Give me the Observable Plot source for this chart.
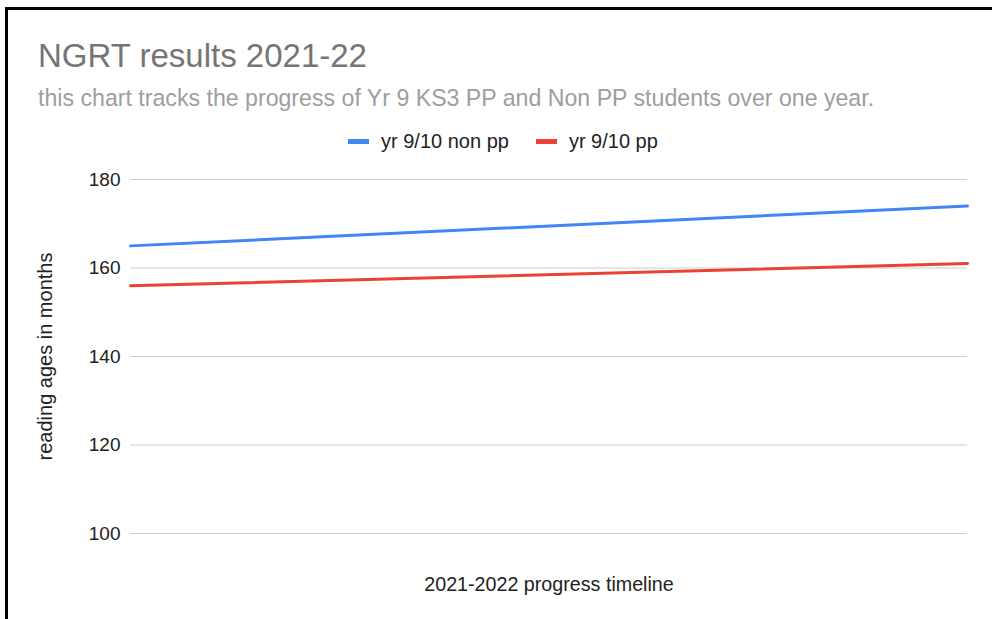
<!DOCTYPE html>
<html>
<head>
<meta charset="utf-8">
<script src="https://cdn.jsdelivr.net/npm/d3@7"></script>
<script src="https://cdn.jsdelivr.net/npm/@observablehq/plot@0.6"></script>
<style>
  html, body { margin: 0; padding: 0; background: #fff; overflow: hidden; width: 992px; height: 619px; }
  body { position: relative; font-family: "Liberation Sans", Arial, sans-serif; }
  #frame { position: absolute; left: 5px; top: 7px; width: 1100px; height: 800px; border: 3px solid #000; box-sizing: border-box; }
  #title { position: absolute; left: 38px; top: 39px; font-size: 33px; line-height: 1; color: #757575; white-space: nowrap; }
  #subtitle { position: absolute; left: 38px; top: 86.5px; font-size: 23.15px; line-height: 1; color: #9e9e9e; white-space: nowrap; }
  #legend { position: absolute; left: 348px; top: 131px; display: flex; align-items: center; font-size: 20px; line-height: 1; color: #222; white-space: nowrap; }
  .item { display: flex; align-items: center; margin-right: 27px; }
  .sw { width: 21px; height: 5px; margin-right: 12px; }
  #chart { position: absolute; left: 0; top: 0; }
</style>
</head>
<body>
<div id="frame"></div>
<div id="title"></div>
<div id="subtitle"></div>
<div id="legend"></div>
<div id="chart"></div>
<script>
const titleText = "NGRT results 2021-22";
const subtitleText = "this chart tracks the progress of Yr 9 KS3 PP and Non PP students over one year.";
const periods = ["start of year", "end of year"];
const seriesNames = ["yr 9/10 non pp", "yr 9/10 pp"];
const seriesColors = ["#4285F4", "#EA4335"];
const nonPP = [165, 174];
const pp = [156, 161];
const yTicks = [100, 120, 140, 160, 180];
const yLabel = "reading ages in months";
const xLabel = "2021-2022 progress timeline";

document.getElementById("title").textContent = titleText;
document.getElementById("subtitle").textContent = subtitleText;
const legend = document.getElementById("legend");
seriesNames.forEach((name, i) => {
  const item = document.createElement("div");
  item.className = "item";
  const sw = document.createElement("div");
  sw.className = "sw";
  sw.style.background = seriesColors[i];
  const t = document.createElement("span");
  t.textContent = name;
  item.appendChild(sw); item.appendChild(t);
  legend.appendChild(item);
});

const rows = [];
periods.forEach((p, i) => {
  rows.push({period: p, value: nonPP[i], series: seriesNames[0]});
});
periods.forEach((p, i) => {
  rows.push({period: p, value: pp[i], series: seriesNames[1]});
});

const chart = Plot.plot({
  width: 992,
  height: 619,
  marginLeft: 130,
  marginRight: 25,
  marginTop: 179,
  marginBottom: 86,
  style: {fontFamily: "Liberation Sans, Arial, sans-serif", background: "transparent", color: "#222"},
  x: {type: "point", domain: periods, padding: 0},
  y: {domain: [100, 180]},
  color: {domain: seriesNames, range: seriesColors},
  marks: [
    Plot.gridY(yTicks, {stroke: "#cccccc", strokeOpacity: 1, strokeWidth: 1}),
    Plot.axisY(yTicks, {tickSize: 0, tickPadding: 10, fontSize: 19, fill: "#222", label: null}),
    Plot.axisY([], {tickSize: 0, fontSize: 20, fill: "#222",
      label: yLabel, labelAnchor: "center", labelArrow: "none", labelOffset: 93}),
    Plot.axisX([], {tickSize: 0, fontSize: 19.7, fill: "#222",
      label: xLabel, labelAnchor: "center", labelArrow: "none", labelOffset: 57}),
    Plot.line(rows, {x: "period", y: "value", z: "series", stroke: "series", strokeWidth: 3})
  ]
});
document.getElementById("chart").appendChild(chart);
</script>
</body>
</html>
